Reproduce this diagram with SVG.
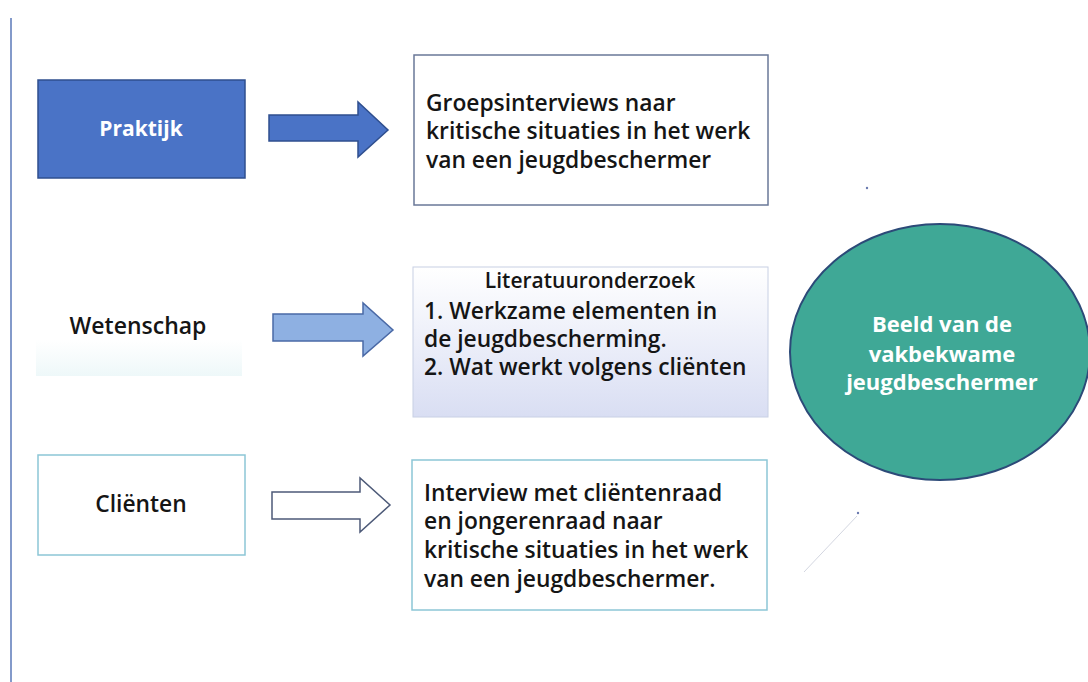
<svg xmlns="http://www.w3.org/2000/svg" width="1088" height="682" viewBox="0 0 1088 682">
<style>
.t{font-family:"Open Sans","Liberation Sans",sans-serif;font-size:22.8px;font-weight:600;fill:#151515}
.w{font-family:"Open Sans","Liberation Sans",sans-serif;font-size:22px;font-weight:bold;fill:#ffffff}
</style>
<defs>
<linearGradient id="g2" x1="0" y1="0" x2="0" y2="1">
<stop offset="0" stop-color="#ffffff"/>
<stop offset="1" stop-color="#d9def3"/>
</linearGradient>
<linearGradient id="gw" x1="0" y1="0" x2="0" y2="1">
<stop offset="0" stop-color="#ffffff"/>
<stop offset="1" stop-color="#eef8f9"/>
</linearGradient>
</defs>
<rect x="0" y="0" width="1088" height="682" fill="#ffffff"/>
<line x1="11" y1="18" x2="11" y2="682" stroke="#5a78b8" stroke-width="1.5"/>
<g id="praktijk">
<rect x="38" y="80" width="207" height="98" fill="#4a73c6" stroke="#2f4f8f" stroke-width="1.5"/>
<text class="w" x="141" y="136" text-anchor="middle" style="font-size:21px">Praktijk</text>
</g>
<g id="wetenschap">
<rect x="36" y="340" width="206" height="36" fill="url(#gw)"/>
<text class="t" x="138" y="334" text-anchor="middle" style="font-size:23px">Wetenschap</text>
</g>
<g id="clienten">
<rect x="38" y="455" width="207" height="100" fill="#ffffff" stroke="#8cc6d6" stroke-width="1.5"/>
<text class="t" x="141" y="512" text-anchor="middle">Cliënten</text>
</g>
<g id="connectors">
<polygon points="269,115 358,115 358,102 388,130 358,157 358,141 269,141" fill="#4a73c6" stroke="#2f4f8f" stroke-width="1.5"/>
<polygon points="273,314 363,314 363,303 393,330 363,356 363,341 273,341" fill="#8eb0e2" stroke="#4a69a6" stroke-width="1.5"/>
<polygon points="272,492 360,492 360,478 390,505 360,532 360,519 272,519" fill="#ffffff" stroke="#4d5a78" stroke-width="1.5"/>
</g>
<g id="groeps">
<rect x="414" y="55" width="354" height="150" fill="#ffffff" stroke="#6a7898" stroke-width="1.5"/>
<text class="t" x="426" y="111">Groepsinterviews naar</text>
<text class="t" x="426" y="139">kritische situaties in het werk</text>
<text class="t" x="426" y="168">van een jeugdbeschermer</text>
</g>
<g id="literatuur">
<rect x="413" y="267" width="355" height="150" fill="url(#g2)" stroke="#c8d0e4" stroke-width="1"/>
<text class="t" x="590" y="288" text-anchor="middle" style="font-size:21px">Literatuuronderzoek</text>
<text class="t" x="424" y="319">1. Werkzame elementen in</text>
<text class="t" x="424" y="347">de jeugdbescherming.</text>
<text class="t" x="424" y="375">2. Wat werkt volgens cliënten</text>
</g>
<g id="interview">
<rect x="412" y="460" width="355" height="150" fill="#ffffff" stroke="#8cc6d6" stroke-width="1.5"/>
<text class="t" x="424" y="501">Interview met cliëntenraad</text>
<text class="t" x="424" y="529">en jongerenraad naar</text>
<text class="t" x="424" y="558">kritische situaties in het werk</text>
<text class="t" x="424" y="587">van een jeugdbeschermer.</text>
</g>
<g id="beeld">
<ellipse cx="940" cy="352" rx="150" ry="128" fill="#3fa896" stroke="#2c4a78" stroke-width="2"/>
<text class="w" x="942" y="332" text-anchor="middle">Beeld van de</text>
<text class="w" x="942" y="362" text-anchor="middle">vakbekwame</text>
<text class="w" x="942" y="390" text-anchor="middle">jeugdbeschermer</text>
</g>
<circle cx="867" cy="188" r="1.2" fill="#6a7ab0"/>
<circle cx="858" cy="513" r="1.2" fill="#6a7ab0"/>
<line x1="857" y1="516" x2="804" y2="572" stroke="#c8ccd8" stroke-width="0.8"/>
</svg>
